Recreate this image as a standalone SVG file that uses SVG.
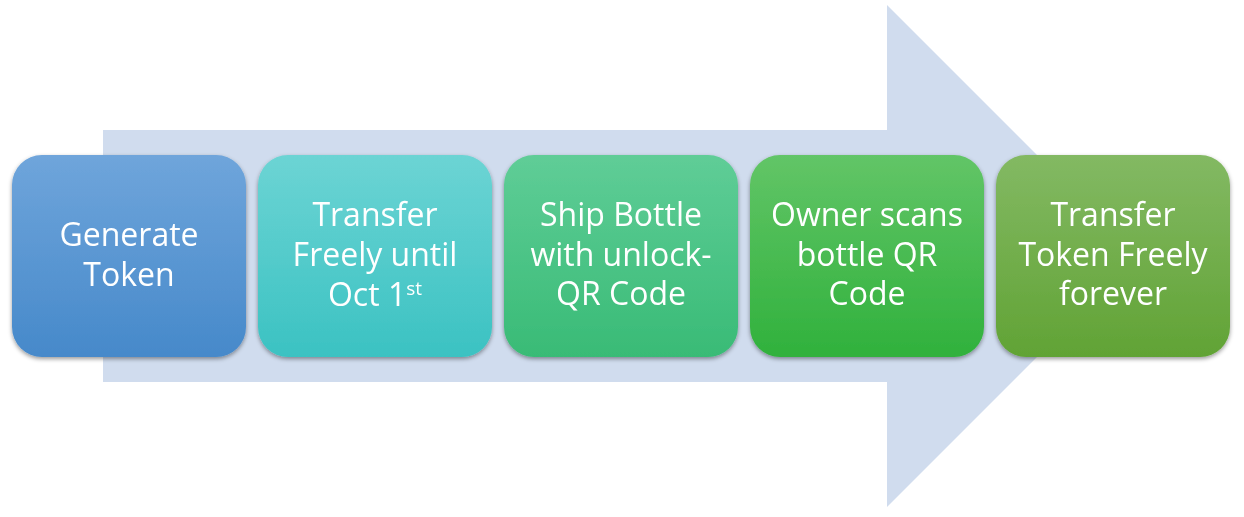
<svg xmlns="http://www.w3.org/2000/svg" width="1244" height="517" viewBox="0 0 1244 517">
<style>
.lbl{font-family:"Open Sans","Liberation Sans",sans-serif;font-size:32px;fill:#ffffff;text-anchor:middle}
.sup{font-size:19px}
.box{filter:url(#sh)}
</style>
<defs>
<filter id="sh" x="-10%" y="-10%" width="120%" height="125%">
<feDropShadow dx="0" dy="2" stdDeviation="2" flood-color="#000" flood-opacity="0.4"/>
</filter>
<linearGradient id="g1" x1="0" y1="0" x2="0" y2="1"><stop offset="0" stop-color="#6fa5db"/><stop offset="1" stop-color="#4689ca"/></linearGradient>
<linearGradient id="g2" x1="0" y1="0" x2="0" y2="1"><stop offset="0" stop-color="#6cd4d4"/><stop offset="1" stop-color="#3bc2c2"/></linearGradient>
<linearGradient id="g3" x1="0" y1="0" x2="0" y2="1"><stop offset="0" stop-color="#5fcd97"/><stop offset="1" stop-color="#39bb76"/></linearGradient>
<linearGradient id="g4" x1="0" y1="0" x2="0" y2="1"><stop offset="0" stop-color="#62c567"/><stop offset="1" stop-color="#30b13c"/></linearGradient>
<linearGradient id="g5" x1="0" y1="0" x2="0" y2="1"><stop offset="0" stop-color="#83b963"/><stop offset="1" stop-color="#61a335"/></linearGradient>
</defs>
<g id="arrow">
<polygon points="103,130 887,130 887,5 1138,256 887,507 887,382 103,382" fill="#d0dcee"/>
</g>
<g id="connectors"></g>
<g id="n1" class="box">
<rect x="12" y="155" width="234" height="202" rx="30" fill="url(#g1)"/>
<text class="lbl" x="129" y="246">Generate</text>
<text class="lbl" x="129" y="286">Token</text>
</g>
<g id="n2" class="box">
<rect x="258" y="155" width="234" height="202" rx="30" fill="url(#g2)"/>
<text class="lbl" x="375" y="226">Transfer</text>
<text class="lbl" x="375" y="266">Freely until</text>
<text class="lbl" x="375" y="306">Oct 1<tspan class="sup" dy="-11">st</tspan></text>
</g>
<g id="n3" class="box">
<rect x="504" y="155" width="234" height="202" rx="30" fill="url(#g3)"/>
<text class="lbl" x="621" y="226">Ship Bottle</text>
<text class="lbl" x="621" y="266">with unlock-</text>
<text class="lbl" x="621" y="305">QR Code</text>
</g>
<g id="n4" class="box">
<rect x="750" y="155" width="234" height="202" rx="30" fill="url(#g4)"/>
<text class="lbl" x="867" y="226">Owner scans</text>
<text class="lbl" x="867" y="266">bottle QR</text>
<text class="lbl" x="867" y="305">Code</text>
</g>
<g id="n5" class="box">
<rect x="996" y="155" width="234" height="202" rx="30" fill="url(#g5)"/>
<text class="lbl" x="1113" y="226">Transfer</text>
<text class="lbl" x="1113" y="266">Token Freely</text>
<text class="lbl" x="1113" y="305">forever</text>
</g>
</svg>
